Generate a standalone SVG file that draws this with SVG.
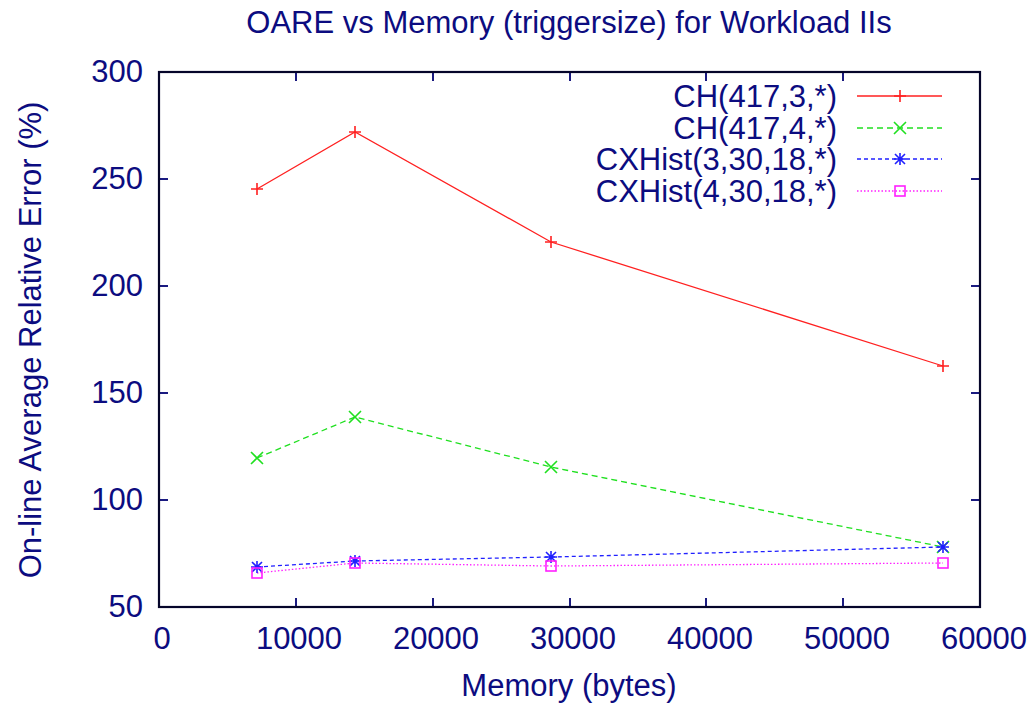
<svg xmlns="http://www.w3.org/2000/svg" width="1031" height="705" viewBox="0 0 1031 705">
<style>
text{font-family:"Liberation Sans",Arial,sans-serif;fill:#0c0c80;font-size:31px}
.yl{text-anchor:end}
.xl{text-anchor:middle}
.lg{text-anchor:end}
.tick{stroke:#1a1a80;stroke-width:2;fill:none}
.s1{stroke:#ff2020;stroke-width:1.3;fill:none}
.s2{stroke:#20e020;stroke-width:1.3;fill:none;stroke-dasharray:6,4}
.s3{stroke:#2020ff;stroke-width:1.3;fill:none;stroke-dasharray:4,3}
.s4{stroke:#ff20ff;stroke-width:1.3;fill:none;stroke-dasharray:1.5,2}
.m1{stroke:#ff2020;stroke-width:1.6;fill:none}
.m2{stroke:#20e020;stroke-width:1.6;fill:none}
.m3{stroke:#2020ff;stroke-width:1.6;fill:none}
.m4{stroke:#ff20ff;stroke-width:1.6;fill:none}
</style>
<defs>
<path id="plus" d="M-6,0H6M0,-6V6"/>
<path id="cross" d="M-6,-6L6,6M-6,6L6,-6"/>
<path id="star" d="M-6,0H6M0,-6V6M-5,-5L5,5M-5,5L5,-5"/>
<rect id="sq" x="-5" y="-5" width="10" height="10"/>
</defs>
<rect width="1031" height="705" fill="#fff"/>
<text x="569" y="33" class="xl">OARE vs Memory (triggersize) for Workload IIs</text>
<g id="axes">
<g class="tick">
<path d="M159,179h9M159,286h9M159,393h9M159,500h9"/>
<path d="M980,179h-9M980,286h-9M980,393h-9M980,500h-9"/>
<path d="M296,607v-9M433,607v-9M570,607v-9M706,607v-9M843,607v-9"/>
<path d="M296,72v9M433,72v9M570,72v9M706,72v9M843,72v9"/>
</g>
<rect x="159" y="72" width="821" height="535" fill="none" stroke="#05052a" stroke-width="2.2"/>
<text class="yl" x="143" y="82">300</text>
<text class="yl" x="143" y="189">250</text>
<text class="yl" x="143" y="296">200</text>
<text class="yl" x="143" y="403">150</text>
<text class="yl" x="143" y="510">100</text>
<text class="yl" x="143" y="617">50</text>
<text class="xl" x="162" y="649">0</text>
<text class="xl" x="299" y="649">10000</text>
<text class="xl" x="436" y="649">20000</text>
<text class="xl" x="573" y="649">30000</text>
<text class="xl" x="710" y="649">40000</text>
<text class="xl" x="847" y="649">50000</text>
<text class="xl" x="984" y="649">60000</text>
<text class="xl" x="569" y="696">Memory (bytes)</text>
<text class="xl" transform="translate(41,340) rotate(-90)">On-line Average Relative Error (%)</text>
</g>
<g id="connectors">
<polyline class="s1" points="257,189 355,132 551,242 943,366"/>
<polyline class="s2" points="257,458 355,417 551,467 943,547"/>
<polyline class="s3" points="257,567 355,561 551,557 943,547"/>
<polyline class="s4" points="257,573 355,563 551,566 943,563"/>
<line class="s1" x1="857" y1="96" x2="942" y2="96"/>
<line class="s2" x1="857" y1="128" x2="942" y2="128"/>
<line class="s3" x1="857" y1="159" x2="942" y2="159"/>
<line class="s4" x1="857" y1="191" x2="942" y2="191"/>
</g>
<g id="series-ch3" class="m1">
<use href="#plus" x="257" y="189"/><use href="#plus" x="355" y="132"/><use href="#plus" x="551" y="242"/><use href="#plus" x="943" y="366"/><use href="#plus" x="900" y="96"/>
</g>
<g id="series-ch4" class="m2">
<use href="#cross" x="257" y="458"/><use href="#cross" x="355" y="417"/><use href="#cross" x="551" y="467"/><use href="#cross" x="943" y="547"/><use href="#cross" x="900" y="128"/>
</g>
<g id="series-cx3" class="m3">
<use href="#star" x="257" y="567"/><use href="#star" x="355" y="561"/><use href="#star" x="551" y="557"/><use href="#star" x="943" y="547"/><use href="#star" x="900" y="159"/>
</g>
<g id="series-cx4" class="m4">
<use href="#sq" x="257" y="573"/><use href="#sq" x="355" y="563"/><use href="#sq" x="551" y="566"/><use href="#sq" x="943" y="563"/><use href="#sq" x="900" y="191"/>
</g>
<g id="legend">
<text class="lg" x="837" y="107">CH(417,3,*)</text>
<text class="lg" x="837" y="139">CH(417,4,*)</text>
<text class="lg" x="837" y="170">CXHist(3,30,18,*)</text>
<text class="lg" x="837" y="202">CXHist(4,30,18,*)</text>
</g>
</svg>
